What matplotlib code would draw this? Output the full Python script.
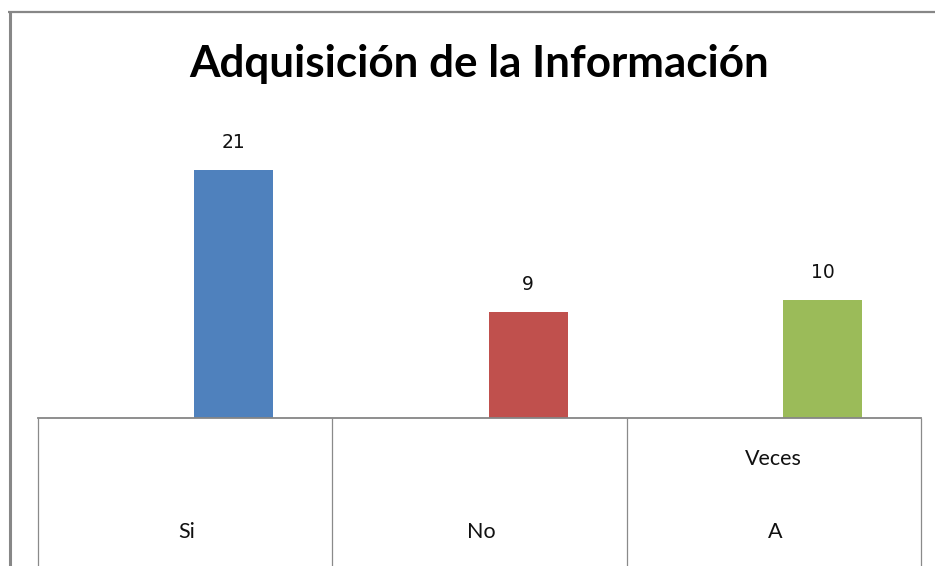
import matplotlib
matplotlib.use("Agg")
import matplotlib.pyplot as plt
from matplotlib.lines import Line2D
from matplotlib.transforms import blended_transform_factory

title = "Adquisición de la Información"
categories = ["Si", "No", "A Veces"]
values = [21, 9, 10]
colors = ["#4F81BD", "#C0504D", "#9BBB59"]

W, H = 935, 566
fig = plt.figure(figsize=(W / 100, H / 100), dpi=100)
fig.patch.set_facecolor("white")

# axes geometry in pixels
ax_left, ax_right, ax_base, ax_top = 38, 921, 418, 110
ax = fig.add_axes([ax_left / W, (H - ax_base) / H, (ax_right - ax_left) / W, (ax_base - ax_top) / H])
px_per_unit = 248 / 21.0
ax.set_ylim(0, (ax_base - ax_top) / px_per_unit)
ax.set_xlim(-0.5, len(categories) - 0.5)

offset = 0.165
xs = [i + offset for i in range(len(categories))]
ax.bar(xs, values, width=0.268, color=colors, zorder=2)

for x, v in zip(xs, values):
    ax.text(x, v + 27 / px_per_unit, str(v), ha="center", va="center",
            fontsize=13.5, family="DejaVu Sans", color="#111111")

for s in ["top", "left", "right"]:
    ax.spines[s].set_visible(False)
ax.spines["bottom"].set_color("#868686")
ax.spines["bottom"].set_linewidth(1.3)
ax.set_yticks([])
ax.set_xticks([])
ax.set_xticks([i - 0.5 for i in range(len(categories) + 1)], minor=True)
ax.tick_params(axis="x", which="minor", length=(H - ax_base) * 0.72, width=0.9,
               color="#8a8a8a", direction="out")
ax.tick_params(axis="x", which="major", length=0)

ax_h = ax_base - ax_top
trans = blended_transform_factory(ax.transData, ax.transAxes)
for i, cat in enumerate(categories):
    words = cat.split()
    ax.text(i + 0.005, (ax_base - 532) / ax_h, words[0], transform=trans, ha="center", va="center",
            fontsize=15.5, family="Lato", color="#111111")
    if len(words) > 1:
        ax.text(i, (ax_base - 459) / ax_h, " ".join(words[1:]), transform=trans, ha="center",
                va="center", fontsize=15.5, family="Lato", color="#111111")

fig.text(479 / W, 1 - 77 / H, title, ha="center", va="baseline", fontsize=31.7,
         family="Lato", fontweight="bold", color="black")

# outer chart border (left and top only visible)
fig.add_artist(Line2D([9.5 / W, 9.5 / W], [0, 1 - 12 / H], transform=fig.transFigure,
                      color="#878787", linewidth=2.2, solid_capstyle="butt"))
fig.add_artist(Line2D([8 / W, 1], [1 - 12 / H, 1 - 12 / H], transform=fig.transFigure,
                      color="#878787", linewidth=1.6, solid_capstyle="butt"))

fig.savefig("out.png", dpi=100, facecolor="white")
